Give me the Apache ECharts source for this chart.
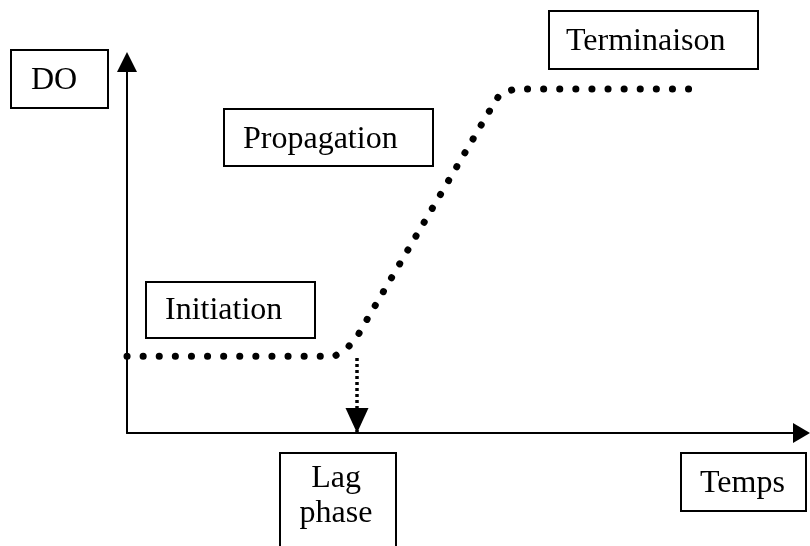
<!DOCTYPE html>
<html>
<head>
<meta charset="utf-8">
<script src="https://cdn.jsdelivr.net/npm/echarts@6/dist/echarts.min.js"></script>
<style>
  html, body { margin: 0; padding: 0; background: #fff; }
  #chart { width: 810px; height: 546px; }
</style>
</head>
<body>
<div id="chart"></div>
<script>
// DO curve (schematic), key points
var curveX = [0, 30.8, 32.8, 34.1, 35.1, 52.0, 53.2, 55.2, 57.4, 83.3];
var curveY = [20.7, 20.7, 23.2, 25.9, 29.1, 81.4, 85.2, 91.1, 92.7, 92.7];
// lag phase marker
var lagX = [34.1, 34.1];
var lagY = [20.2, 0];
// box labels
var labels = ["DO", "Terminaison", "Propagation", "Initiation", "Lag\nphase", "Temps"];

var chart = echarts.init(document.getElementById("chart"));

var font = '32px "Liberation Serif", "Times New Roman", serif';

function box(x, y, w, h) {
  return {
    type: "rect",
    shape: { x: x, y: y, width: w, height: h },
    style: { fill: "#fff", stroke: "#000", lineWidth: 2 }
  };
}
function txt(s, x, y, align) {
  return {
    type: "text",
    x: x,
    y: y,
    style: {
      text: s,
      font: font,
      fill: "#000",
      align: align || "left",
      verticalAlign: "middle",
      lineHeight: 35
    }
  };
}

var curveData = curveX.map(function (v, i) { return [v, curveY[i]]; });

chart.setOption({
  animation: false,
  backgroundColor: "#fff",
  grid: { left: 127, right: 8.5, top: 62, bottom: 113 },
  xAxis: {
    type: "value",
    min: 0,
    max: 100,
    axisLine: {
      lineStyle: { color: "#000", width: 2 },
      symbol: ["none", "triangle"],
      symbolSize: [20, 17]
    },
    axisTick: { show: false },
    axisLabel: { show: false },
    splitLine: { show: false }
  },
  yAxis: {
    type: "value",
    min: 0,
    max: 100,
    axisLine: {
      show: true,
      lineStyle: { color: "#000", width: 2 },
      symbol: ["none", "triangle"],
      symbolSize: [20, 20]
    },
    axisTick: { show: false },
    axisLabel: { show: false },
    splitLine: { show: false }
  },
  series: [
    {
      type: "line",
      data: curveData,
      symbol: "none",
      lineStyle: { color: "#000", width: 7, type: [0.1, 16], cap: "round" }
    },
    {
      type: "line",
      data: [
        { value: [lagX[0], lagY[0]], symbol: "none" },
        {
          value: [lagX[1], lagY[1]],
          symbol: "path://M0,0L2,0L1,2Z",
          symbolSize: [23, 25],
          symbolOffset: [0, -12.5],
          symbolKeepAspect: false
        }
      ],
      itemStyle: { color: "#000" },
      lineStyle: { color: "#000", width: 3.5, type: [3, 3] }
    }
  ],
  graphic: [
    box(11, 50, 97, 58), txt(labels[0], 31, 81),
    box(549, 11, 209, 58), txt(labels[1], 566, 42),
    box(224, 109, 209, 57), txt(labels[2], 243, 139.5),
    box(146, 282, 169, 56), txt(labels[3], 165, 311),
    box(280, 453, 116, 100), txt(labels[4], 336, 496, "center"),
    box(681, 453, 125, 58), txt(labels[5], 700, 484)
  ]
});
</script>
</body>
</html>
